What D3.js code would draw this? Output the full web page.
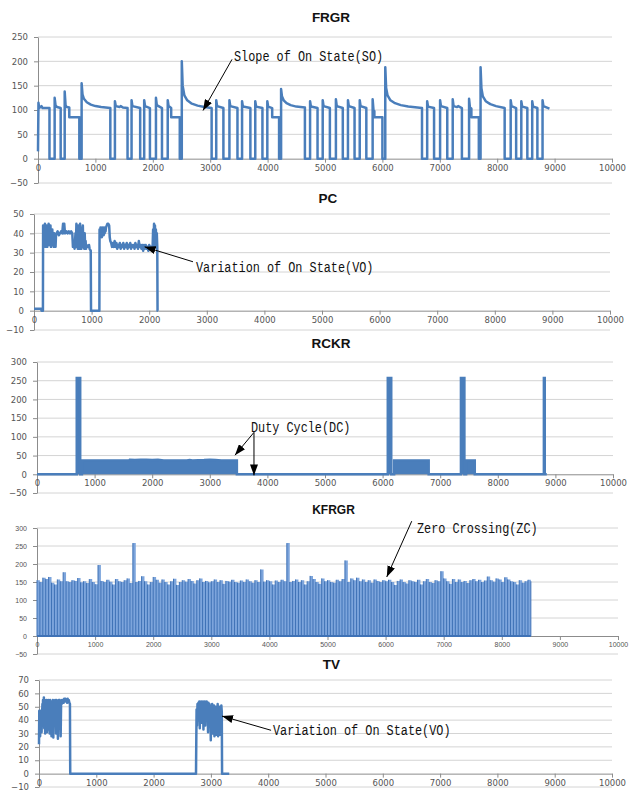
<!DOCTYPE html>
<html>
<head>
<meta charset="utf-8">
<script src="https://cdn.jsdelivr.net/npm/d3@7"></script>
<style>
body { margin: 0; background: #fff; }
svg { display: block; }
</style>
</head>
<body>
<script>
// ---- data ----
const xTicks = [0, 1000, 2000, 3000, 4000, 5000, 6000, 7000, 8000, 9000, 10000];

const frgrTicks = [-50, 0, 50, 100, 150, 200, 250];
const frgrPoints = [
  [0,15],[8,115],[20,104],[60,108],[80,104],[200,104],[200,0],
  [290,0],[290,125],[305,110],[330,106],[395,104],[395,0],
  [465,0],[465,138],[480,110],[500,106],[545,105],[545,85],[720,85],[720,0],
  [760,0],[760,155],[775,132],[800,123],[850,116],[920,111],[1000,108],[1100,106],[1260,104],[1260,0],
  [1340,0],[1340,118],[1355,108],[1420,106],[1440,108],[1480,105],[1560,104],[1560,0],
  [1630,0],[1630,120],[1645,108],[1780,104],[1780,0],
  [1850,0],[1850,120],[1865,108],[1950,104],[1950,0],
  [2055,0],[2055,125],[2070,110],[2160,104],[2160,0],
  [2260,0],[2260,120],[2275,108],[2320,104],[2320,85],[2470,85],[2470,0],
  [2505,0],[2505,200],[2520,150],[2550,130],[2600,120],[2680,113],[2780,109],[2900,106],[3025,104],[3025,0],
  [3105,0],[3105,120],[3120,108],[3230,104],[3230,0],
  [3335,0],[3335,120],[3350,108],[3475,104],[3475,0],
  [3555,0],[3555,118],[3570,107],[3700,104],[3700,0],
  [3785,0],[3785,118],[3800,107],[3910,104],[3910,0],
  [3995,0],[3995,118],[4010,107],[4080,104],[4080,85],[4200,85],[4200,0],
  [4235,0],[4235,143],[4250,128],[4280,120],[4330,114],[4400,110],[4500,107],[4650,105],[4650,0],
  [4740,0],[4740,118],[4755,107],[4870,104],[4870,0],
  [4960,0],[4960,120],[4975,108],[5085,104],[5085,0],
  [5190,0],[5190,122],[5205,108],[5310,104],[5310,0],
  [5400,0],[5400,120],[5415,108],[5515,104],[5515,0],
  [5605,0],[5605,120],[5620,108],[5720,104],[5720,0],
  [5830,0],[5830,122],[5845,100],[5860,98],[5860,85],[6000,85],[6000,0],
  [6050,0],[6050,188],[6065,145],[6090,130],[6140,120],[6220,114],[6320,110],[6450,107],[6690,104],[6690,0],
  [6780,0],[6780,118],[6795,107],[6900,104],[6900,0],
  [7005,0],[7005,120],[7020,108],[7130,104],[7130,0],
  [7225,0],[7225,122],[7240,108],[7300,106],[7320,108],[7385,104],[7385,0],
  [7510,0],[7510,123],[7525,105],[7550,103],[7550,85],[7680,85],[7680,0],
  [7710,0],[7710,188],[7725,145],[7750,128],[7800,118],[7880,112],[7980,108],[8130,104],[8130,0],
  [8235,0],[8235,120],[8250,108],[8330,104],[8330,0],
  [8420,0],[8420,118],[8435,107],[8525,104],[8525,0],
  [8610,0],[8610,118],[8625,107],[8700,104],[8700,0],
  [8790,0],[8790,120],[8805,108],[8910,103]
];

const pcTicks = [-10, 0, 10, 20, 30, 40, 50];
const pcPoints = [
  [0,1],[125,1],[130,0],[155,0],[158,44],[166,34],[174,43],[182,35],[190,45],[198,33],[206,42],[214,36],
  [222,44],[230,33],[238,40],[246,35],[254,45],[262,34],[270,41],[278,36],[286,44],[294,33],[302,39],
  [310,35],[318,42],[326,34],[334,38],[342,33],[350,40],[358,35],[366,38],[374,33],[382,39],[392,40],
  [410,41],[430,39],[450,40],[470,41],[490,40],[505,45],[515,40],[525,45],[535,41],[545,40],[565,41],
  [585,40],[605,41],[625,40],[645,41],[665,40],[676,33],[690,34],[705,32],[720,40],[728,33],[736,45],
  [744,34],[752,42],[760,32],[768,44],[776,35],[784,41],[792,32],[800,45],[808,33],[816,43],[824,32],
  [832,39],[840,34],[848,44],[856,33],[864,37],[872,32],[880,40],[888,33],[896,36],[904,32],[912,34],
  [925,33],[940,33],[955,34],[965,32],[985,31],[990,0],[1135,0],[1138,42],[1146,38],[1154,43],[1162,39],
  [1170,42],[1178,38],[1186,43],[1194,40],[1202,42],[1210,39],[1218,43],[1226,40],[1234,42],[1242,41],
  [1250,43],[1262,44],[1275,45],[1290,45],[1305,44],[1315,38],[1325,36],[1340,35],[1355,33],[1370,35],
  [1385,33],[1400,36],[1415,33],[1430,35],[1445,32],[1460,34],[1475,33],[1490,35],[1505,32],[1520,34],
  [1535,33],[1550,35],[1565,32],[1580,34],[1595,33],[1610,35],[1625,32],[1640,34],[1655,33],[1670,35],
  [1685,32],[1700,34],[1715,33],[1730,34],[1745,32],[1760,35],[1775,33],[1790,34],[1805,32],[1820,36],
  [1835,33],[1850,34],[1865,32],[1880,34],[1895,31],[1910,34],[1925,32],[1940,34],[1955,32],[1970,33],
  [1985,31],[2000,34],[2015,32],[2030,33],[2045,32],[2060,34],[2068,42],[2076,33],[2084,45],[2092,35],
  [2100,44],[2108,33],[2116,42],[2124,34],[2132,40],[2140,33],[2145,0],[2150,0]
];

const rckrTicks = [-50, 0, 50, 100, 150, 200, 250, 300];
const rckrPoints = [
  [0,0],[690,0],[690,257],[750,257],[750,0],[780,0],[780,37],[1600,37],[1610,39],[1700,38],[1800,39],
  [1900,39],[2000,38],[2100,39],[2200,37],[2600,37],[2650,38],[2700,37],[2900,38],[3000,39],[3100,38],
  [3200,37],[3470,37],[3470,0],[6090,0],[6090,257],[6150,257],[6150,0],[6200,0],[6200,37],[6800,37],
  [6800,0],[7360,0],[7360,257],[7420,257],[7420,0],[7450,0],[7450,37],[7600,37],[7600,0],[8800,0],
  [8800,257],[8815,257],[8815,0],[8850,0]
];

const kfrgrTicks = [-50, 0, 50, 100, 150, 200, 250, 300];
const kfrgrStep = 50; // sample spacing on the x axis
const kfrgrPeaks = [
  155,150,162,158,164,148,143,157,152,177,
  152,150,155,153,161,149,152,147,158,150,
  144,197,153,150,156,151,143,158,152,150,
  155,160,147,258,150,153,166,152,143,150,
  164,156,148,157,150,143,152,159,142,150,
  155,151,158,153,146,155,160,150,153,149,
  152,157,150,155,145,153,151,156,150,148,
  154,150,157,152,148,155,150,185,151,155,
  152,143,154,150,156,152,258,150,153,157,
  150,155,143,152,167,158,150,145,160,152,
  155,150,148,156,152,158,210,150,160,155,
  162,152,157,150,155,148,157,153,150,155,
  152,156,150,142,153,157,150,146,155,152,
  150,156,143,152,158,150,147,155,152,180,
  160,152,145,158,150,157,150,153,147,155,
  158,152,156,150,154,165,155,151,160,157,
  150,163,157,152,150,143,155,148,152,156,
  152
];

const tvTicks = [-10, 0, 10, 20, 30, 40, 50, 60, 70];
const tvPoints = [
  [0,22],[5,47],[10,30],[15,45],[20,28],[25,47],[30,33],[40,47],[45,31],[55,46],[60,52],[65,36],
  [70,55],[78,38],[85,57],[92,34],[100,55],[108,30],[115,54],[122,42],[130,55],[138,31],[146,53],
  [154,48],[162,55],[170,33],[178,54],[186,30],[194,55],[202,45],[210,54],[218,28],[226,53],[234,50],
  [242,55],[250,27],[258,52],[266,54],[274,46],[282,55],[290,53],[298,30],[306,55],[314,52],[322,54],
  [330,26],[338,50],[346,55],[354,53],[362,55],[370,51],[378,28],[386,54],[394,52],[402,55],[410,53],
  [420,55],[430,53],[440,56],[450,54],[460,56],[470,54],[480,55],[490,53],[500,56],[510,54],[520,55],
  [530,53],[540,52],[545,0],
  [2740,0],[2750,48],[2758,36],[2766,52],[2774,45],[2782,53],[2790,40],[2798,54],[2806,34],[2814,52],
  [2822,47],[2830,54],[2838,38],[2846,53],[2854,45],[2862,54],[2870,33],[2878,52],[2886,44],[2894,54],
  [2902,36],[2910,53],[2918,48],[2926,54],[2934,40],[2942,52],[2950,31],[2958,53],[2966,44],[2974,52],
  [2982,35],[2990,51],[2998,25],[3006,50],[3014,38],[3022,52],[3030,30],[3038,49],[3046,36],[3054,51],
  [3062,28],[3070,48],[3078,33],[3086,50],[3094,29],[3102,47],[3110,35],[3118,52],[3126,28],[3134,49],
  [3142,30],[3150,50],[3158,29],[3166,48],[3174,31],[3182,51],[3190,46],[3195,0],[3320,0]
];

// ---- layout ----
const width = 629, height = 794;
const blue = '#4a7ebb';

const panels = [
  { title: 'FRGR', kind: 'line', data: frgrPoints, ticks: frgrTicks,
    left: 38, right: 612, top: 37, bottom: 183, titleY: 22,
    note: { text: 'Slope of On State(SO)', at: [3415, 211], arrows: [[[3380, 204], [2875, 99]]] } },
  { title: 'PC', kind: 'line', data: pcPoints, ticks: pcTicks,
    left: 34, right: 610, top: 214, bottom: 330, titleY: 203,
    note: { text: 'Variation of On State(VO)', at: [2812, 22.5], arrows: [[[2760, 25.3], [1920, 33]]] } },
  { title: 'RCKR', kind: 'area', data: rckrPoints, ticks: rckrTicks,
    left: 37, right: 613, top: 362, bottom: 493, titleY: 348,
    note: { text: 'Duty Cycle(DC)', at: [3715, 125], arrows: [[[3767, 112], [3437, 51]], [[3767, 112], [3767, -3]]] } },
  { title: 'KFRGR', kind: 'spikes', data: kfrgrPeaks, ticks: kfrgrTicks, small: true,
    left: 37, right: 618, top: 528, bottom: 654, titleY: 514,
    note: { text: 'Zero Crossing(ZC)', at: [6540, 300], arrows: [[[6450, 319], [6020, 164]]] } },
  { title: 'TV', kind: 'line', data: tvPoints, ticks: tvTicks,
    left: 39, right: 612, top: 680, bottom: 787, titleY: 669,
    note: { text: 'Variation of On State(VO)', at: [4084, 32.4], arrows: [[[4050, 32.4], [3194, 43]]] } }
];

const svg = d3.select('body').append('svg')
  .attr('width', width)
  .attr('height', height);

svg.append('defs').append('marker')
  .attr('id', 'arrow')
  .attr('markerUnits', 'userSpaceOnUse')
  .attr('markerWidth', 11).attr('markerHeight', 8)
  .attr('refX', 11).attr('refY', 4)
  .attr('orient', 'auto')
  .append('path')
  .attr('d', 'M0,0 L11,4 L0,8 z')
  .attr('fill', '#000');

function drawPanel(p){
  const x = d3.scaleLinear().domain([0, 10000]).range([p.left, p.right]);
  const y = d3.scaleLinear().domain([p.ticks[0], p.ticks[p.ticks.length - 1]]).range([p.bottom, p.top]);
  const g = svg.append('g');
  const tickFont = p.small ? '7px' : '8.5px';
  const tickFamily = p.small ? '"Liberation Sans", Arial, sans-serif' : '"DejaVu Sans", Verdana, sans-serif';

  // gridlines
  g.append('g').selectAll('line')
    .data(p.ticks.filter(v => v !== 0))
    .join('line')
    .attr('x1', p.left).attr('x2', p.right)
    .attr('y1', d => y(d)).attr('y2', d => y(d))
    .attr('stroke', '#d4d4d4').attr('stroke-width', 1);

  // y axis
  const yAxis = g.append('g')
    .attr('transform', `translate(${p.left},0)`)
    .call(d3.axisLeft(y).tickValues(p.ticks).tickSize(4).tickSizeOuter(0).tickPadding(6).tickFormat(d3.format('d')));
  yAxis.select('.domain').attr('stroke', '#8c8c8c');
  yAxis.selectAll('.tick line').attr('stroke', '#8c8c8c');
  yAxis.selectAll('text')
    .attr('fill', '#555')
    .style('font-family', tickFamily)
    .style('font-size', tickFont);

  // x axis at zero
  const xAxis = g.append('g')
    .attr('transform', `translate(0,${y(0)})`)
    .call(d3.axisBottom(x).tickValues(xTicks).tickSize(4).tickSizeOuter(0).tickPadding(2).tickFormat(d3.format('d')));
  xAxis.select('.domain').attr('stroke', '#8c8c8c');
  xAxis.selectAll('.tick line').attr('stroke', '#8c8c8c');
  xAxis.selectAll('text')
    .attr('fill', '#555')
    .style('font-family', tickFamily)
    .style('font-size', tickFont);

  // series
  if (p.kind === 'line') {
    g.append('path')
      .datum(p.data)
      .attr('d', d3.line().x(d => x(d[0])).y(d => y(d[1])))
      .attr('fill', 'none')
      .attr('stroke', blue)
      .attr('stroke-width', 2.5)
      .attr('stroke-linejoin', 'round');
  } else if (p.kind === 'area') {
    g.append('path')
      .datum(p.data)
      .attr('d', d3.area().x(d => x(d[0])).y0(y(0)).y1(d => y(d[1])))
      .attr('fill', blue);
    g.append('path')
      .datum(p.data)
      .attr('d', d3.line().x(d => x(d[0])).y(d => y(d[1])))
      .attr('fill', 'none')
      .attr('stroke', blue)
      .attr('stroke-width', 2.5);
  } else if (p.kind === 'spikes') {
    g.append('path')
      .datum(p.data)
      .attr('d', d3.area().x((d, i) => x(i * kfrgrStep)).y0(y(0)).y1(d => y(d)).curve(d3.curveStepAfter))
      .attr('fill', '#7da5dc');
    g.append('g').selectAll('line')
      .data(p.data)
      .join('line')
      .attr('x1', (d, i) => x(i * kfrgrStep)).attr('x2', (d, i) => x(i * kfrgrStep))
      .attr('y1', y(0)).attr('y2', d => y(d))
      .attr('stroke', '#3f72b6').attr('stroke-width', 1);
    g.append('line')
      .attr('x1', x(0)).attr('x2', x((p.data.length - 1) * kfrgrStep))
      .attr('y1', y(0)).attr('y2', y(0))
      .attr('stroke', '#3f72b6').attr('stroke-width', 2);
  }

  // title
  g.append('text')
    .attr('x', (p.left + p.right) / 2 + 6)
    .attr('y', p.titleY)
    .attr('text-anchor', 'middle')
    .style('font-family', '"Liberation Sans", Arial, sans-serif')
    .style('font-weight', 'bold')
    .style('font-size', p.small ? '12px' : '13.5px')
    .attr('fill', '#111')
    .text(p.title);

  // annotation
  const n = p.note;
  n.arrows.forEach(a => {
    g.append('line')
      .attr('x1', x(a[0][0])).attr('y1', y(a[0][1]))
      .attr('x2', x(a[1][0])).attr('y2', y(a[1][1]))
      .attr('stroke', '#000').attr('stroke-width', 1)
      .attr('marker-end', 'url(#arrow)');
  });
  g.append('text')
    .attr('x', x(n.at[0]))
    .attr('y', y(n.at[1]))
    .attr('dy', '0.35em')
    .attr('textLength', n.text.length * 7.1)
    .attr('lengthAdjust', 'spacingAndGlyphs')
    .style('font-family', '"Liberation Mono", "DejaVu Sans Mono", monospace')
    .style('font-size', '14px')
    .attr('fill', '#111')
    .text(n.text);
}

panels.forEach(drawPanel);
</script>
</body>
</html>
